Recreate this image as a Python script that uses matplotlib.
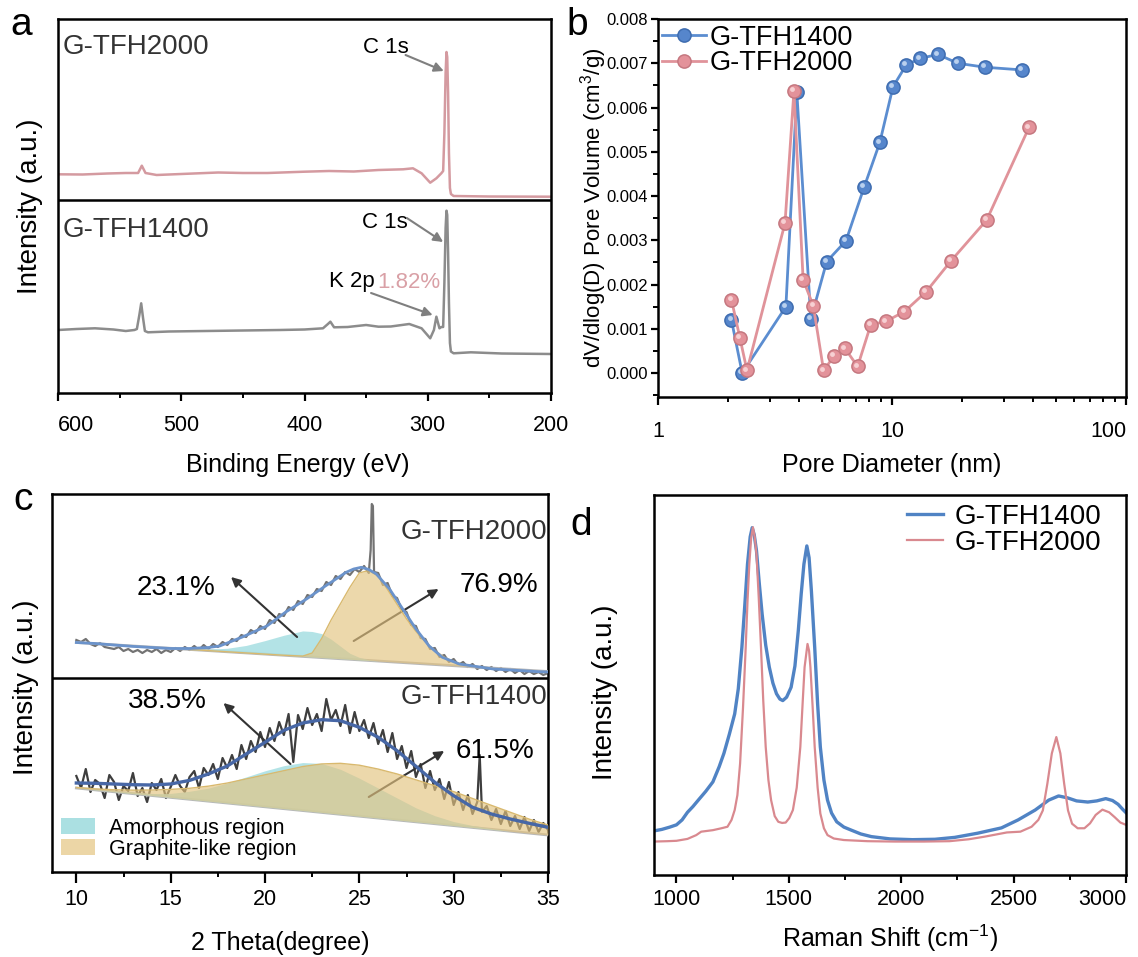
import numpy as np
import matplotlib
matplotlib.use('Agg')
import matplotlib.pyplot as plt
from matplotlib.patches import Patch
from matplotlib.transforms import offset_copy
from matplotlib.ticker import MultipleLocator, NullFormatter, FormatStrFormatter

plt.rcParams['font.family'] = ['Liberation Sans', 'DejaVu Sans']
plt.rcParams['mathtext.fontset'] = 'custom'
plt.rcParams['mathtext.rm'] = 'Liberation Sans'
plt.rcParams['mathtext.it'] = 'Liberation Sans:italic'

# ---------------- (a) XPS survey ----------------
xps_e_2000 = [600, 580, 560, 545, 535, 532, 529, 520, 500, 470, 450, 430, 400, 380, 360, 340,
              320, 312, 305, 298, 293, 289, 287.5, 286.5, 285.5, 284.8, 284.2, 283.5, 282.8,
              282, 281.2, 279, 250, 200]
xps_i_2000 = [218.7, 218.5, 219.5, 220, 220, 227.3, 220, 218, 219, 220.5, 220, 220, 221.3, 222,
              221.5, 223, 223.7, 224.7, 219.7, 210.3, 214.7, 219.7, 222, 260, 320, 341, 336, 300,
              240, 205, 199, 197, 196.5, 196.3]
xps_e_1400 = [600, 585, 570, 555, 545, 538, 536, 534, 532.5, 531, 529.5, 527, 510, 480, 450,
              420, 400, 385, 381, 379, 376, 365, 350, 340, 330, 315, 305, 298, 295, 293, 290.5,
              289, 287.5, 286.5, 285.5, 284.8, 284.2, 283.5, 282.8, 282, 281.2, 279, 265, 240, 200]
xps_i_1400 = [63, 64, 64.7, 63.5, 62, 63, 64, 78, 89.7, 75, 62, 60.7, 61.5, 62, 62.5,
              63, 63.5, 64.7, 69, 71.3, 65.7, 66, 68, 66.3, 66.5, 69, 64.7, 54.7, 63, 76.3, 64.7,
              66, 66, 110, 165, 182.3, 178, 140, 90, 50, 41.5, 39.7, 40.7, 39.5, 39]

# ---------------- (b) pore size distribution ----------------
pore_d_1400 = [2.06, 2.29, 3.52, 3.92, 4.50, 5.26, 6.36, 7.60, 8.87, 10.1, 11.5, 13.2, 15.7,
               19.1, 25.0, 35.8]
pore_v_1400 = [0.00120, 0.0, 0.00150, 0.00634, 0.00122, 0.00252, 0.00299, 0.00420, 0.00521,
               0.00647, 0.00696, 0.00711, 0.00720, 0.00700, 0.00691, 0.00685]
pore_d_2000 = [2.06, 2.24, 2.40, 3.49, 3.81, 4.17, 4.61, 5.10, 5.65, 6.29, 7.13, 8.11, 9.43,
               11.3, 14.0, 17.9, 25.4, 38.5]
pore_v_2000 = [0.00166, 0.00079, 0.00006, 0.00339, 0.00637, 0.00211, 0.00152, 0.00006,
               0.00038, 0.00056, 0.00015, 0.00109, 0.00117, 0.00139, 0.00184, 0.00254,
               0.00346, 0.00555]

# ---------------- (c) XRD with peak fitting ----------------
theta_up = [10.00, 10.25, 10.50, 10.75, 11.00, 11.25, 11.50, 11.75, 12.00, 12.25, 12.50, 12.75,
            13.00, 13.25, 13.50, 13.75, 14.00, 14.25, 14.50, 14.75, 15.00, 15.25, 15.50, 15.75,
            16.00, 16.25, 16.50, 16.75, 17.00, 17.25, 17.50, 17.75, 18.00, 18.25, 18.50, 18.75,
            19.00, 19.25, 19.50, 19.75, 20.00, 20.25, 20.50, 20.75, 21.00, 21.25, 21.50, 21.75,
            22.00, 22.25, 22.50, 22.75, 23.00, 23.25, 23.50, 23.75, 24.00, 24.25, 24.50, 24.75,
            25.00, 25.25, 25.50, 25.60, 25.66, 25.72, 25.78, 26.00, 26.25, 26.50, 26.75, 27.00,
            27.25, 27.50, 27.75, 28.00, 28.25, 28.50, 28.75, 29.00, 29.25, 29.50, 29.75, 30.00,
            30.25, 30.50, 30.75, 31.00, 31.25, 31.50, 31.75, 32.00, 32.25, 32.50, 32.75, 33.00,
            33.25, 33.50, 33.75, 34.00, 34.25, 34.50, 34.75, 35.00]
xrd_up = [232, 230, 233, 228, 226, 229, 225, 224, 223, 225, 221, 223,
          220, 222, 219, 222, 220, 223, 219, 222, 220, 224, 221, 225,
          222, 226, 222, 227, 223, 228, 225, 230, 227, 233, 231, 237,
          235, 242, 239, 246, 243, 252, 249, 258, 256, 265, 262, 271,
          268, 277, 275, 283, 281, 290, 287, 296, 293, 300, 297, 303,
          300, 306, 299, 322, 368, 366, 300, 299, 287, 289, 276, 274,
          262, 260, 247, 246, 234, 233, 223, 224, 215, 217, 210, 213,
          207, 210, 205, 208, 203, 206, 202, 205, 201, 204, 200, 203,
          199, 202, 198, 201, 198, 200, 197, 199]
theta_fit_up = [10, 11, 12, 13, 14, 15, 16, 17, 17.6, 18.8, 20.1, 21.1, 22.2, 23.2, 24.3, 24.7,
                25.1, 25.5, 25.9, 26.6, 27.3, 28.0, 28.7, 29.4, 30.3, 32.1, 34.5, 35]
fit_up = [229.5, 228.5, 227, 225.6, 224.5, 223.5, 223.5, 224.5, 226, 235, 246, 260, 273, 286,
          299.7, 303, 304.7, 302.5, 298, 283, 263, 243, 226, 214.7, 208, 203, 200.3, 200]
base_theta = [10, 35]
base_up = [229.5, 200.5]
comp_theta_up = [16, 17, 18, 19, 20, 21, 22, 22.5, 23, 23.5, 24, 24.5, 25, 25.5, 26, 26.5, 27,
                 27.5, 28, 28.5, 29, 29.5, 30, 30.5, 31, 32]
amorph_up = [0.5, 1.5, 3.5, 7.5, 13.5, 20, 25.5, 25.5, 24, 19, 12.5, 6, 2.5, 0.8, 0, 0, 0,
             0, 0, 0, 0, 0, 0, 0, 0, 0]
graph_up = [0, 0, 0, 0, 0, 0, 0.3, 4, 19, 38, 55, 72, 87, 90, 85, 72, 58,
            44, 32, 22, 14, 8, 4, 2, 0.8, 0]

theta_lo = [10.00, 10.25, 10.50, 10.75, 11.00, 11.25, 11.50, 11.75, 12.00, 12.25, 12.50, 12.75,
            13.00, 13.25, 13.50, 13.75, 14.00, 14.25, 14.50, 14.75, 15.00, 15.25, 15.50, 15.75,
            16.00, 16.25, 16.50, 16.75, 17.00, 17.25, 17.50, 17.75, 18.00, 18.25, 18.50, 18.75,
            19.00, 19.25, 19.50, 19.75, 20.00, 20.25, 20.50, 20.75, 21.00, 21.25, 21.50, 21.75,
            22.00, 22.25, 22.50, 22.75, 23.00, 23.25, 23.50, 23.75, 24.00, 24.25, 24.50, 24.75,
            25.00, 25.25, 25.50, 25.75, 26.00, 26.25, 26.50, 26.75, 27.00, 27.25, 27.50, 27.75,
            28.00, 28.25, 28.50, 28.75, 29.00, 29.25, 29.50, 29.75, 30.00, 30.25, 30.50, 30.75,
            31.00, 31.25, 31.38, 31.50, 31.75, 32.00, 32.25, 32.50, 32.75, 33.00, 33.25, 33.50,
            33.75, 34.00, 34.25, 34.50, 34.75, 35.00]
xrd_lo = [96, 84, 103, 80, 92, 88, 74, 97, 90, 72, 86, 81,
          99, 76, 84, 70, 89, 82, 93, 74, 85, 97, 86, 80,
          95, 101, 84, 104, 97, 108, 93, 114, 104, 117, 103, 127,
          113, 131, 120, 140, 125, 144, 131, 150, 137, 158, 110, 157,
          143, 164, 147, 158, 141, 173, 152, 162, 146, 167, 139, 160,
          141, 152, 134, 149, 128, 142, 120, 139, 113, 126, 104, 121,
          95, 108, 84, 101, 82, 93, 73, 90, 67, 80, 62, 77,
          58, 70, 117, 60, 66, 52, 63, 48, 61, 46, 56, 43,
          55, 41, 52, 40, 49, 42]
theta_fit_lo = [10, 11, 12, 13, 14, 15, 16, 17, 18, 19, 20, 21, 22, 23, 24, 25, 26, 27, 28, 29,
                30, 31, 32, 33, 34, 35]
fit_lo = [89, 88.7, 88, 87.3, 87, 88, 91.6, 98, 106, 118, 129.7, 141.7, 149, 152.3, 151.3,
          144.7, 134.7, 121.3, 105.7, 89.7, 76.3, 64.7, 58, 53, 48.7, 44.7]
base_lo = [84, 37]
amorph_lo = [0, 0.5, 1, 1.5, 2, 4, 8, 13, 20, 28, 36, 43, 48, 49, 45, 38, 30, 22, 14, 8,
             4, 2, 1, 0, 0, 0]
graph_lo = [0.5, 1, 2, 3.5, 5.5, 8, 11, 15, 20, 26, 32, 38, 44, 48.5, 51, 51, 49, 46, 42, 38,
            34, 29, 24, 19, 14, 10]

# ---------------- (d) Raman ----------------
raman_x_1400 = [900, 935, 970, 1000, 1025, 1049, 1073, 1097, 1130, 1162, 1190, 1211, 1235, 1259,
                1275, 1291, 1304, 1316, 1328, 1337, 1346, 1356, 1368, 1381, 1397, 1413, 1429,
                1445, 1460, 1473, 1490, 1510, 1527, 1542, 1555, 1567, 1580, 1590, 1600, 1615,
                1628, 1640, 1656, 1672, 1690, 1713, 1745, 1778, 1820, 1867, 1950, 2050, 2150,
                2238, 2340, 2446, 2520, 2596, 2656, 2700, 2740, 2780, 2830, 2870, 2910, 2940,
                2965, 2985, 3000]
raman_i_1400 = [11.6, 12.0, 12.6, 13.2, 14.5, 16.5, 18.0, 19.7, 22.0, 24.5, 28.5, 32.0, 37.0, 42.4,
                49.0, 59.9, 71.0, 81.8, 89.0, 91.4, 89.5, 85.3, 77.0, 68.7, 60.5, 54.7, 50.5,
                47.7, 46.3, 45.9, 46.8, 49.4, 55.0, 64.3, 74.0, 81.8, 86.6, 83.5, 75.0, 59.9,
                45.0, 33.7, 25.0, 19.7, 16.3, 14.0, 12.6, 11.8, 10.8, 10.1, 9.5, 9.3, 9.4,
                9.9, 11.0, 12.4, 14.5, 17.1, 19.7, 20.8, 20.3, 19.5, 19.2, 19.5, 20.1, 19.6,
                18.6, 17.3, 16.4]
raman_x_2000 = [900, 960, 1000, 1049, 1088, 1110, 1162, 1200, 1227, 1245, 1259, 1271, 1283, 1296,
                1308, 1316, 1324, 1332, 1340, 1348, 1356, 1366, 1376, 1386, 1397, 1409, 1421,
                1437, 1453, 1470, 1486, 1502, 1518, 1535, 1551, 1562, 1570, 1583, 1590, 1596,
                1606, 1615, 1628, 1640, 1656, 1672, 1700, 1745, 1850, 1972, 2100, 2215, 2300,
                2372, 2470, 2530, 2580, 2610, 2630, 2650, 2670, 2690, 2708, 2725, 2742, 2760,
                2785, 2815, 2840, 2865, 2895, 2925, 2950, 2975, 3000]
raman_i_2000 = [8.8, 8.9, 9.0, 9.5, 10.5, 11.4, 11.8, 12.3, 12.7, 14.5, 17.1, 21.0, 29.3, 44.0,
                59.9, 72.0, 81.8, 88.5, 91.5, 89.0, 84.4, 73.0, 59.9, 46.0, 33.7, 25.0, 19.7,
                15.5, 14.0, 13.7, 13.8, 15.0, 17.1, 23.0, 33.7, 46.0, 54.7, 60.8, 59.0, 54.7,
                44.0, 33.7, 23.0, 16.2, 12.3, 10.5, 9.6, 9.2, 8.9, 8.8, 8.8, 8.9, 9.4,
                10.1, 11.2, 11.4, 12.7, 14.5, 17.0, 24.0, 32.0, 36.3, 32.0, 24.0, 17.0, 13.5,
                12.3, 12.3, 13.6, 15.8, 17.2, 16.5, 15.2, 13.8, 13.2]

W, H = 1138, 957
fig = plt.figure(figsize=(W / 100, H / 100), dpi=100)


def box(l, t, r, b):
    return fig.add_axes([l / W, 1 - b / H, (r - l) / W, (b - t) / H])


def style(ax, labelsize=15.5, pad=4):
    for s in ax.spines.values():
        s.set_linewidth(1.8)
    ax.tick_params(which='major', direction='out', length=6, width=1.6,
                   labelsize=labelsize, pad=pad)
    ax.tick_params(which='minor', direction='out', length=3.5, width=1.4)


def arrow(ax, tail, head, color, lw=1.5, ms=14):
    ax.annotate('', xy=head, xytext=tail,
                arrowprops=dict(arrowstyle='-|>', color=color, lw=lw,
                                mutation_scale=ms, shrinkA=0, shrinkB=0))


# ---- panel a ----
ax = box(58, 19, 551, 393)
ax.plot(xps_e_2000, xps_i_2000, color='#d49aa0', lw=1.8)
ax.plot(xps_e_1400, xps_i_1400, color='#8c8c8c', lw=1.8)
ax.axhline(193, color='black', lw=1.8)
ax.set_xlim(600, 200)
ax.set_ylim(0, 374)
ax.set_yticks([])
ax.set_xticks([600, 500, 400, 300, 200])
ax.xaxis.set_minor_locator(MultipleLocator(50))
style(ax, pad=10)
ax.get_xticklabels()[0].set_horizontalalignment('left')
ax.set_xlabel('Binding Energy (eV)', fontsize=18)
ax.xaxis.set_label_coords(0.487, -0.193)
ax.xaxis.label.set_va('center')
ax.set_ylabel('Intensity (a.u.)', fontsize=20)
ax.yaxis.set_label_coords(-0.057, 0.5)
ax.yaxis.label.set_va('center')
ax.text(596.5, 346, 'G-TFH2000', fontsize=20, ha='left', va='center', color='#333333')
ax.text(596.5, 163, 'G-TFH1400', fontsize=20, ha='left', va='center', color='#333333')
ax.text(334, 346, 'C 1s', fontsize=16, ha='center', va='center')
ax.text(335, 170, 'C 1s', fontsize=16, ha='center', va='center')
ax.text(343, 111, 'K 2p', fontsize=16, ha='right', va='center')
ax.text(341, 111, '1.82%', fontsize=16, ha='left', va='center', color='#d9a0a6')
arrow(ax, (318, 338), (287, 322), '#7f7f7f')
arrow(ax, (317, 175), (287.5, 151), '#7f7f7f')
arrow(ax, (346, 100), (296, 78), '#7f7f7f')

# ---- panel b ----
ax = box(658, 19, 1126, 397)
l1, = ax.plot(pore_d_1400, pore_v_1400, '-o', color='#5b8dd0', lw=2, ms=9.5,
              mfc='#5686cc', mec='#3f6db0', mew=1.1, label='G-TFH1400')
hl = offset_copy(ax.transData, fig=fig, x=-1.3, y=1.3, units='points')
ax.plot(pore_d_1400, pore_v_1400, 'o', ms=3.5, color='#b9d0ee', mew=0, transform=hl)
l2, = ax.plot(pore_d_2000, pore_v_2000, '-o', color='#e0939a', lw=2, ms=9.5,
              mfc='#e3929a', mec='#c57880', mew=1.1, label='G-TFH2000')
ax.plot(pore_d_2000, pore_v_2000, 'o', ms=3.5, color='#f6d0d3', mew=0, transform=hl)
ax.set_xscale('log')
ax.set_xlim(1, 100)
ax.set_ylim(-0.00054, 0.008)
ax.set_xticks([1, 10, 100])
ax.set_xticklabels(['1', '10', '100'])
ax.xaxis.set_minor_formatter(NullFormatter())
ax.yaxis.set_major_locator(MultipleLocator(0.001))
ax.yaxis.set_minor_locator(MultipleLocator(0.0005))
ax.yaxis.set_major_formatter(FormatStrFormatter('%.3f'))
style(ax, pad=11)
ax.tick_params(axis='y', which='major', labelsize=12, pad=2, length=5)
ax.get_xticklabels()[-1].set_horizontalalignment('right')
ax.set_xlabel('Pore Diameter (nm)', fontsize=18)
ax.xaxis.set_label_coords(0.5, -0.18)
ax.xaxis.label.set_va('center')
ax.set_ylabel('dV/dlog(D) Pore Volume (cm$^3$/g)', fontsize=16)
ax.yaxis.set_label_coords(-0.138, 0.5)
ax.yaxis.label.set_va('center')
ax.legend(handles=[l1, l2], loc='upper left', bbox_to_anchor=(0.008, 0.985), frameon=False,
          fontsize=19.5, borderpad=0, handlelength=1.65, handletextpad=0.1, labelspacing=-0.02,
          borderaxespad=0)

# ---- panel c ----
ax = box(52, 494, 548, 872)
ax.plot(theta_up, xrd_up, color='#737373', lw=1.6, zorder=2)
ax.plot(theta_lo, xrd_lo, color='#3e3e3e', lw=1.6, zorder=2)
ax.plot(base_theta, base_up, color='#b8b8b8', lw=2, zorder=3)
ax.plot(base_theta, base_lo, color='#b8b8b8', lw=2, zorder=3)
b_up = np.interp(comp_theta_up, base_theta, base_up)
b_lo = np.interp(theta_fit_lo, base_theta, base_lo)
ax.fill_between(comp_theta_up, b_up, b_up + np.array(amorph_up), color='#a6dfe2',
                alpha=0.85, lw=0, zorder=3)
ax.fill_between(comp_theta_up, b_up, b_up + np.array(graph_up), color='#e3c37f',
                alpha=0.65, lw=0, zorder=4)
ax.plot(comp_theta_up, b_up + np.array(graph_up), color='#d9b96e', lw=1, zorder=4)
ax.fill_between(theta_fit_lo, b_lo, b_lo + np.array(amorph_lo), color='#a6dfe2',
                alpha=0.85, lw=0, zorder=3)
ax.fill_between(theta_fit_lo, b_lo, b_lo + np.array(graph_lo), color='#e3c37f',
                alpha=0.65, lw=0, zorder=4)
ax.plot(theta_fit_lo, b_lo + np.array(graph_lo), color='#d9b96e', lw=1, zorder=4)
ax.plot(theta_fit_up, fit_up, color='#6b93cb', lw=2, zorder=5)
ax.plot(theta_fit_lo, fit_lo, color='#4767a6', lw=2.4, zorder=5)
ax.axhline(194, color='black', lw=1.8, zorder=6)
ax.set_xlim(8.71, 35)
ax.set_ylim(0, 378)
ax.set_yticks([])
ax.xaxis.set_major_locator(MultipleLocator(5))
ax.xaxis.set_minor_locator(MultipleLocator(2.5))
style(ax, pad=4)
ax.tick_params(which='major', length=8)
ax.set_xlabel('2 Theta(degree)', fontsize=18)
ax.xaxis.set_label_coords(0.46, -0.188)
ax.xaxis.label.set_va('center')
ax.set_ylabel('Intensity (a.u.)', fontsize=20)
ax.yaxis.set_label_coords(-0.053, 0.49)
ax.yaxis.label.set_va('center')
ax.text(34.95, 340, 'G-TFH2000', fontsize=20, ha='right', va='center', color='#333333')
ax.text(34.95, 175, 'G-TFH1400', fontsize=20, ha='right', va='center', color='#333333')
ax.text(15.3, 284, '23.1%', fontsize=20, ha='center', va='center')
ax.text(32.4, 287, '76.9%', fontsize=20, ha='center', va='center')
ax.text(14.8, 171, '38.5%', fontsize=20, ha='center', va='center')
ax.text(32.2, 121, '61.5%', fontsize=20, ha='center', va='center')
arrow(ax, (21.7, 235), (18.2, 295), '#333333')
arrow(ax, (24.7, 231), (29.2, 283), '#333333')
arrow(ax, (21.35, 108), (17.8, 169), '#333333')
arrow(ax, (25.5, 75), (29.5, 121), '#333333')
ax.legend(handles=[Patch(facecolor='#abe0e2', edgecolor='none', label='Amorphous region'),
                   Patch(facecolor='#ecd6a6', edgecolor='none', label='Graphite-like region')],
          loc='upper left', bbox_to_anchor=(0.018, 0.144), frameon=False, fontsize=15.5,
          borderpad=0, borderaxespad=0, handlelength=1.58, handleheight=0.7,
          handletextpad=0.65, labelspacing=0.0)

# ---- panel d ----
ax = box(654, 495, 1126, 875)
l1, = ax.plot(raman_x_1400, raman_i_1400, color='#5083c4', lw=2.4, label='G-TFH1400')
l2, = ax.plot(raman_x_2000, raman_i_2000, color='#d9898f', lw=1.6, label='G-TFH2000')
ax.set_xlim(900, 3000)
ax.set_ylim(0, 100)
ax.set_yticks([])
ax.set_xticks([1000, 1500, 2000, 2500, 3000])
ax.xaxis.set_minor_locator(MultipleLocator(250))
style(ax, pad=4)
ax.get_xticklabels()[-1].set_horizontalalignment('right')
ax.set_xlabel('Raman Shift (cm$^{-1}$)', fontsize=18)
ax.xaxis.set_label_coords(0.5, -0.166)
ax.xaxis.label.set_va('center')
ax.set_ylabel('Intensity (a.u.)', fontsize=20)
ax.yaxis.set_label_coords(-0.104, 0.48)
ax.yaxis.label.set_va('center')
ax.legend(handles=[l1, l2], loc='upper left', bbox_to_anchor=(0.536, 0.976), frameon=False,
          fontsize=20, borderpad=0, borderaxespad=0, handlelength=1.3, handletextpad=0.4,
          labelspacing=0.0)

# panel letters
for ch, x, y in [('a', 10, 35), ('b', 566, 35), ('c', 13, 510), ('d', 570, 535)]:
    fig.text(x / W, 1 - y / H, ch, fontsize=28, ha='left', va='baseline')

fig.savefig('out.png', dpi=100)
